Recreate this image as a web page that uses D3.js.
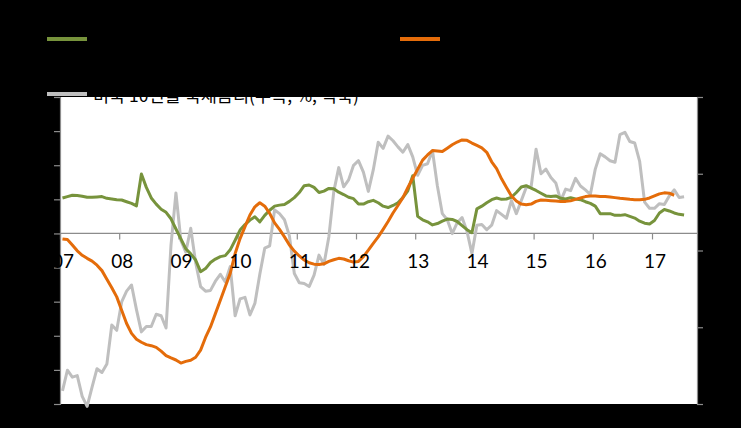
<!DOCTYPE html>
<html><head><meta charset="utf-8">
<script src="https://cdn.jsdelivr.net/npm/d3@7"></script>
<style>
html,body{margin:0;padding:0;background:#000;}
svg{display:block;}
</style></head>
<body>
<svg id="chart" width="741" height="428"></svg>
<script>
// ---------- DATA ----------
const startYear = 2007; // monthly series, first point = Jan 2007
const yearLabels = ["07","08","09","10","11","12","13","14","15","16","17"];
const leftTicks = [40,30,20,10,0,-10,-20,-30,-40,-50];
const rightTicks = [1,2,3,4,5];
const seriesNames = ["미국 개인소득 증가율(좌측, %, YoY)", "미국 주가 상승률(좌측, %, YoY)", "미국 10년물 국채금리(우측, %, 역축)"];

const greenValues = [
10.4,10.8,11.2,11.1,10.9,10.6,10.6,10.7,10.8,10.3,10.1,9.9,
9.8,9.3,8.8,8.1,17.4,13.5,10.4,8.6,7.1,6.2,4.3,1.3,
-1.6,-4.5,-6.0,-7.8,-11.2,-10.3,-8.5,-7.5,-6.8,-6.5,-4.8,-2.0,
1.0,2.6,3.9,4.9,3.4,5.3,6.8,8.0,8.3,8.5,9.4,10.5,
12.0,14.0,14.2,13.5,12.0,12.4,13.2,13.1,12.1,11.4,10.6,10.2,
8.6,8.6,9.3,9.7,9.0,8.0,7.6,8.2,9.0,10.5,12.5,16.9,
5.0,4.0,3.4,2.5,2.9,3.6,4.2,4.1,3.5,2.3,1.1,0.2,
7.2,8.0,9.0,9.9,10.4,10.0,10.1,10.6,12.0,13.6,14.0,13.3,
12.6,11.8,11.0,10.8,11.0,10.3,10.1,10.5,10.1,9.9,9.3,8.8,
8.0,5.8,5.8,5.8,5.3,5.3,5.5,5.0,4.5,3.6,3.0,2.8,
3.8,6.0,7.0,6.6,6.0,5.6,5.4
];

const orangeValues = [
-1.6,-1.8,-3.4,-5.1,-6.4,-7.3,-8.1,-9.3,-10.9,-13.4,-15.9,-18.6,
-22.5,-26.4,-29.3,-31.0,-31.9,-32.6,-32.9,-33.4,-34.5,-35.8,-36.5,-37.1,
-38.0,-37.5,-37.2,-36.3,-34.2,-30.5,-27.4,-23.5,-19.6,-15.6,-11.7,-5.9,
-1.5,2.0,5.4,7.8,9.0,8.0,5.9,3.1,1.2,-1.0,-3.4,-5.2,
-6.6,-7.8,-8.6,-9.0,-9.1,-8.9,-8.2,-7.7,-7.3,-7.5,-8.0,-8.4,
-8.2,-6.8,-4.9,-2.9,-1.0,1.2,3.5,6.0,8.2,10.5,13.4,16.2,
18.8,21.5,23.0,24.3,24.2,24.0,25.0,26.0,26.8,27.4,27.3,26.5,
25.8,25.1,23.8,21.0,19.0,16.0,13.5,11.0,9.5,8.6,8.4,8.6,
9.4,9.8,9.7,9.6,9.5,9.4,9.4,9.6,10.0,10.4,10.8,11.0,
11.0,10.8,10.8,10.7,10.5,10.3,10.2,10.0,9.9,9.9,10.0,10.4,
11.0,11.6,11.9,11.8,11.2
];

const grayValues = [
4.83,4.56,4.65,4.63,4.90,5.03,4.78,4.54,4.59,4.48,3.97,4.04,
3.67,3.53,3.45,3.77,4.06,3.99,3.99,3.83,3.85,4.01,2.93,2.25,
2.87,3.02,2.71,3.16,3.47,3.53,3.52,3.40,3.31,3.41,3.21,3.85,
3.63,3.61,3.84,3.69,3.31,2.97,2.94,2.47,2.52,2.60,2.81,3.30,
3.42,3.43,3.47,3.32,3.06,3.18,2.82,2.23,1.92,2.17,2.08,1.89,
1.83,1.98,2.23,1.95,1.59,1.67,1.51,1.57,1.65,1.72,1.62,1.78,
2.02,1.89,1.87,1.70,2.16,2.52,2.60,2.78,2.64,2.57,2.75,3.04,
2.67,2.66,2.73,2.67,2.48,2.53,2.58,2.35,2.52,2.35,2.18,2.17,
1.68,2.00,1.94,2.05,2.12,2.35,2.20,2.22,2.06,2.16,2.21,2.27,
1.94,1.74,1.78,1.83,1.85,1.49,1.46,1.58,1.60,1.84,2.37,2.45,
2.45,2.39,2.40,2.29,2.21,2.31,2.30
];

// ---------- LAYOUT ----------
const svg = d3.select("#chart");
const W = 741, H = 428;
const plot = {left:60, right:697, top:97, bottom:404};
const colors = {green:"#77933C", orange:"#E46C0A", gray:"#BFBFBF", axis:"#8C8C8C"};

svg.append("rect").attr("width",W).attr("height",H).attr("fill","#000");
svg.append("rect").attr("x",plot.left).attr("y",plot.top)
  .attr("width",plot.right-plot.left).attr("height",plot.bottom-plot.top).attr("fill","#fff");

const x = d3.scaleLinear().domain([2007, 2017.76]).range([plot.left, plot.right]);
const yL = d3.scaleLinear().domain([-50, 40]).range([plot.bottom, plot.top]);
const yR = d3.scaleLinear().domain([1, 5]).range([plot.top, plot.bottom]); // reversed axis

const dateOf = i => startYear + (i + 0.5) / 12;

// axes
const leftAxis = d3.axisLeft(yL).tickValues(leftTicks).tickSize(6).tickPadding(6).tickFormat(d3.format("d"));
const gL = svg.append("g").attr("transform",`translate(${plot.left},0)`).call(leftAxis);
const rightAxis = d3.axisRight(yR).tickValues(rightTicks).tickSize(6).tickPadding(6).tickFormat(d3.format(".1f"));
const gR = svg.append("g").attr("transform",`translate(${plot.right},0)`).call(rightAxis);
[gL,gR].forEach(g=>{
  g.select(".domain").attr("stroke",colors.axis).attr("stroke-width",1.2);
  g.selectAll(".tick line").attr("stroke",colors.axis).attr("stroke-width",1.2);
  g.selectAll("text").attr("fill","#000").style("font-family","Lato, sans-serif").style("font-size","15px");
});

// zero line with year ticks
const yearTicks = yearLabels.map((_,i)=>startYear+i);
const xAxis = d3.axisBottom(x).tickValues(yearTicks).tickSize(6).tickFormat(()=>"");
const gX = svg.append("g").attr("transform",`translate(0,${yL(0)})`).call(xAxis);
gX.select(".domain").attr("stroke",colors.axis).attr("stroke-width",1.2)
  .attr("d",`M${plot.left},0H${plot.right}`);
gX.selectAll(".tick line").attr("stroke",colors.axis).attr("stroke-width",1.2);

// lines
const lineL = d3.line().defined(d=>d!=null).x((d,i)=>x(dateOf(i))).y(d=>yL(d));
const lineR = d3.line().x((d,i)=>x(dateOf(i))).y(d=>yR(d));
svg.append("path").datum(grayValues).attr("d",lineR).attr("fill","none")
  .attr("stroke",colors.gray).attr("stroke-width",3).attr("stroke-linejoin","round");
svg.append("path").datum(greenValues).attr("d",lineL).attr("fill","none")
  .attr("stroke",colors.green).attr("stroke-width",3).attr("stroke-linejoin","round");
svg.append("path").datum(orangeValues).attr("d",lineL).attr("fill","none")
  .attr("stroke",colors.orange).attr("stroke-width",3).attr("stroke-linejoin","round");

// year labels
svg.append("g").selectAll("text").data(yearLabels).join("text")
  .attr("x",(d,i)=>x(startYear+i)+3)
  .attr("y",268)
  .attr("text-anchor","middle")
  .style("font-family","Lato, 'Open Sans', sans-serif")
  .style("font-size","19px")
  .attr("fill","#000")
  .text(d=>d);

// legend
const legend = [
  {name:seriesNames[0], color:colors.green, x:47, y:39},
  {name:seriesNames[1], color:colors.orange, x:400, y:39},
  {name:seriesNames[2], color:colors.gray, x:47, y:94}
];
const lg = svg.append("g").selectAll("g").data(legend).join("g");
lg.append("line").attr("x1",d=>d.x).attr("x2",d=>d.x+40).attr("y1",d=>d.y).attr("y2",d=>d.y)
  .attr("stroke",d=>d.color).attr("stroke-width",4);
lg.append("text").attr("x",d=>d.x+46).attr("y",d=>d.y+8)
  .style("font-family","'Noto Sans CJK KR', sans-serif").style("font-size","17.5px")
  .attr("fill","#000").text(d=>d.name);
</script>
</body></html>
